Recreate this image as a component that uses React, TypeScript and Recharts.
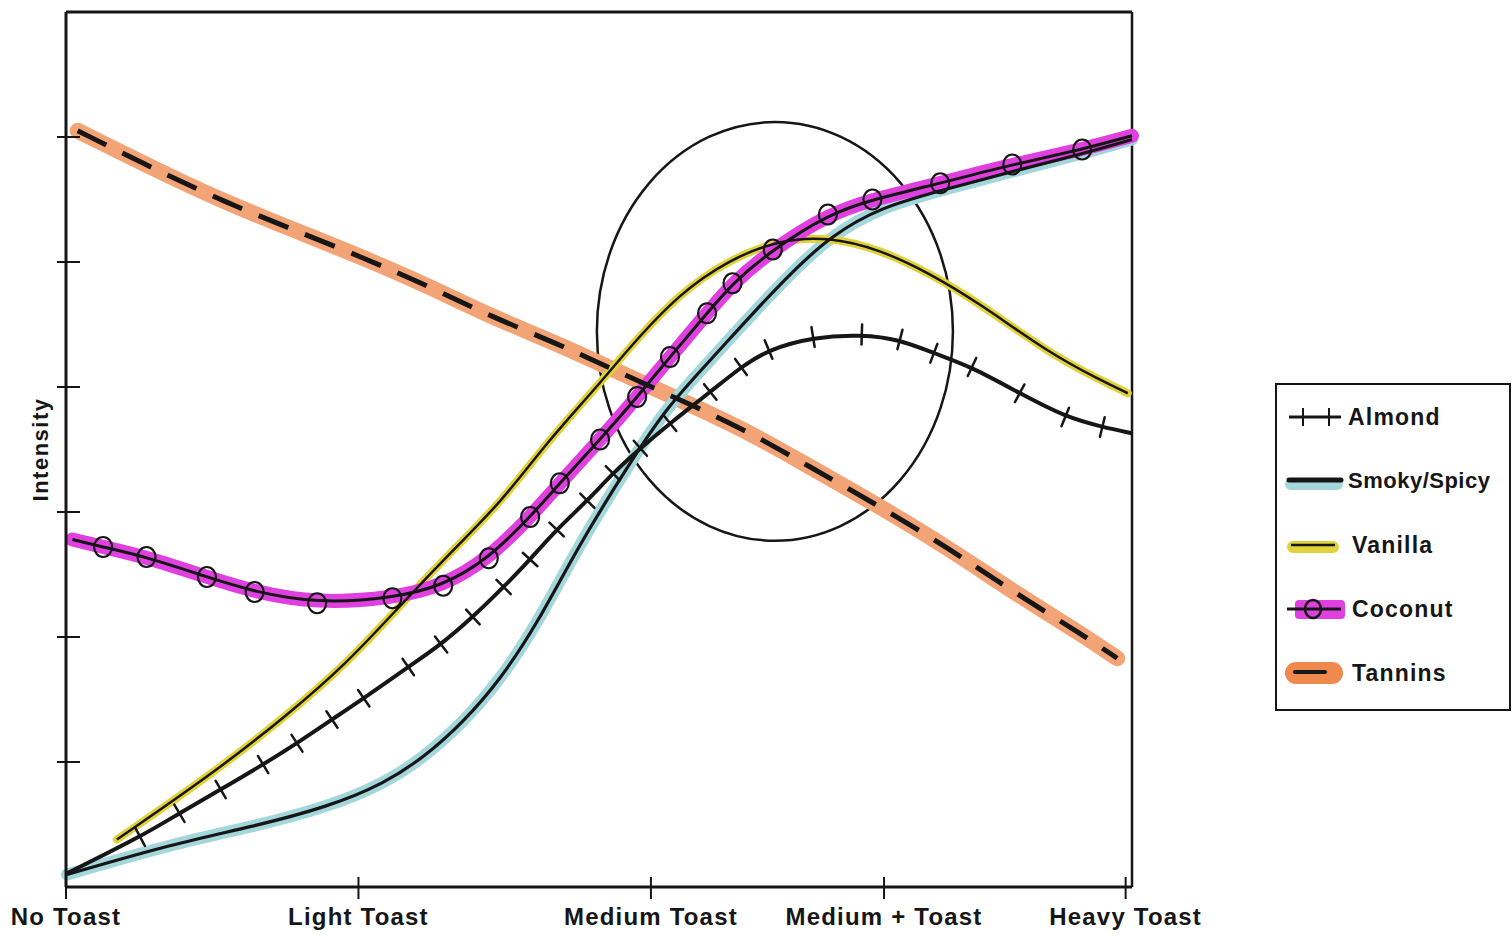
import {
  LineChart,
  Line,
  XAxis,
  YAxis,
  ReferenceLine,
  ReferenceArea,
  Legend,
} from "recharts";

const INK = "#161616";
const FONT = '"Liberation Sans", Arial, Helvetica, sans-serif';

const ORANGE = "#f2a476";
const MAGENTA = "#e040e0";
const CYAN = "#a3d7db";
const YELLOW = "#e2d23a";

// toast levels (x positions follow the uneven spacing of the drawing)
const X_TICK_VALUES = [0, 27.6, 55.2, 77.2, 100];
const X_TICK_LABELS = ["No Toast", "Light Toast", "Medium Toast", "Medium + Toast", "Heavy Toast"];
const Y_TICKS = [1, 2, 3, 4, 5, 6];
const X_MAX = 100.6;
const Y_MAX = 7;

const ALMOND_X = [0.1, 7.0, 10.7, 14.6, 18.6, 21.8, 25.1, 28.1, 32.3, 35.4, 38.4, 41.3, 43.8, 46.3, 49.2, 51.6, 54.2, 57.0, 60.8, 63.7, 66.3, 70.5, 75.1, 78.7, 81.9, 85.5, 90.0, 94.3, 97.8, 100.6];
const ALMOND_Y = [0.11, 0.4, 0.59, 0.78, 0.98, 1.15, 1.34, 1.51, 1.76, 1.94, 2.16, 2.40, 2.62, 2.86, 3.09, 3.31, 3.51, 3.71, 3.96, 4.16, 4.3, 4.4, 4.42, 4.38, 4.27, 4.16, 3.95, 3.76, 3.68, 3.63];

const SMOKY_X = [0.1, 10.3, 17.5, 24.7, 30.1, 33.8, 37.4, 41.0, 44.5, 48.5, 53.2, 56.7, 61.1, 64.8, 69.0, 72.1, 76.8, 83.4, 90.0, 95.7, 100.6];
const SMOKY_Y = [0.1, 0.35, 0.48, 0.64, 0.83, 1.04, 1.31, 1.66, 2.11, 2.75, 3.39, 3.84, 4.24, 4.59, 4.96, 5.2, 5.44, 5.59, 5.74, 5.86, 5.98];

const VANILLA_X = [4.8, 13.9, 21.1, 26.5, 31.2, 36.2, 41.0, 45.4, 50.1, 53.2, 57.9, 62.6, 67.4, 72.1, 76.8, 81.5, 86.2, 92.8, 97.5, 100.2];
const VANILLA_Y = [0.38, 0.91, 1.39, 1.79, 2.22, 2.67, 3.07, 3.56, 4.0, 4.32, 4.75, 5.02, 5.18, 5.2, 5.1, 4.91, 4.67, 4.27, 4.06, 3.95];

const COCONUT_X = [0.6, 3.5, 7.6, 13.3, 17.8, 23.7, 30.8, 35.6, 39.9, 43.8, 46.6, 50.4, 53.9, 57.0, 60.5, 62.9, 66.7, 71.9, 76.1, 82.5, 89.3, 95.9, 100.6];
const COCONUT_Y = [2.78, 2.72, 2.64, 2.48, 2.36, 2.27, 2.31, 2.41, 2.63, 2.96, 3.23, 3.58, 3.92, 4.24, 4.59, 4.83, 5.1, 5.38, 5.5, 5.63, 5.78, 5.9, 6.01];

const TANNINS_X = [1.1, 8.9, 15.0, 21.1, 27.9, 34.4, 40.2, 46.3, 51.1, 55.8, 64.1, 70.2, 76.3, 83.5, 89.4, 95.9, 99.2];
const TANNINS_Y = [6.05, 5.72, 5.48, 5.27, 5.04, 4.8, 4.56, 4.35, 4.16, 3.98, 3.66, 3.36, 3.07, 2.7, 2.36, 2.02, 1.83];

const SERIES_NAMES = ["Almond", "Smoky/Spicy", "Vanilla", "Coconut", "Tannins"];

// the circled crossover zone
const ZONE_X = [50.1, 83.7];
const ZONE_Y = [2.77, 6.12];

const CHART_W = 1512;
const CHART_H = 935;
const MARGIN = { top: 12, right: 380, bottom: 0, left: 0 };
const Y_AXIS_W = 66;
const X_AXIS_H = 48;
const PX_PER_X = (CHART_W - MARGIN.left - MARGIN.right - Y_AXIS_W) / X_MAX;
const PX_PER_Y = (CHART_H - MARGIN.top - MARGIN.bottom - X_AXIS_H) / Y_MAX;

function toPoints(xs: number[], ys: number[]) {
  return xs.map((x, i) => ({ x, y: ys[i] }));
}

const almond = toPoints(ALMOND_X, ALMOND_Y);
const smoky = toPoints(SMOKY_X, SMOKY_Y);
const vanilla = toPoints(VANILLA_X, VANILLA_Y);
const coconut = toPoints(COCONUT_X, COCONUT_Y);
const tannins = toPoints(TANNINS_X, TANNINS_Y);

function AlmondTick(props: any) {
  const { cx, cy, index } = props;
  if (index === 0 || index === ALMOND_X.length - 1 || cx == null) return <g key={`a-${index}`} />;
  const dx = (ALMOND_X[index + 1] - ALMOND_X[index - 1]) * PX_PER_X;
  const dy = -(ALMOND_Y[index + 1] - ALMOND_Y[index - 1]) * PX_PER_Y;
  const len = Math.hypot(dx, dy) || 1;
  const nx = -dy / len;
  const ny = dx / len;
  const h = 10;
  return (
    <line
      key={`a-${index}`}
      x1={cx - nx * h}
      y1={cy - ny * h}
      x2={cx + nx * h}
      y2={cy + ny * h}
      stroke={INK}
      strokeWidth={2.5}
      strokeLinecap="round"
    />
  );
}

function CoconutRing(props: any) {
  const { cx, cy, index } = props;
  if (index === 0 || index === COCONUT_X.length - 1 || cx == null) return <g key={`c-${index}`} />;
  return <ellipse key={`c-${index}`} cx={cx} cy={cy} rx={9} ry={10} fill="none" stroke={INK} strokeWidth={2.2} />;
}

function XTick(props: any) {
  const { x, y, payload } = props;
  const label = X_TICK_LABELS[X_TICK_VALUES.indexOf(payload.value)];
  return (
    <g>
      <line x1={x} x2={x} y1={y - 10} y2={y + 12} stroke={INK} strokeWidth={2} />
      <text
        x={x}
        y={y + 38}
        textAnchor="middle"
        fontFamily={FONT}
        fontWeight={700}
        fontSize={24}
        letterSpacing={1.2}
        fill={INK}
      >
        {label}
      </text>
    </g>
  );
}

function YTick(props: any) {
  const { x, y } = props;
  return <line x1={x - 9} x2={x + 14} y1={y} y2={y} stroke={INK} strokeWidth={2} />;
}

function Swatch({ name }: { name: string }) {
  return (
    <svg width={62} height={26} style={{ display: "block" }}>
      {name === "Almond" && (
        <g stroke={INK} strokeWidth={3}>
          <line x1={4} x2={56} y1={13} y2={13} />
          <line x1={18} x2={18} y1={4} y2={22} strokeWidth={2} />
          <line x1={44} x2={44} y1={4} y2={22} strokeWidth={2} />
        </g>
      )}
      {name === "Smoky/Spicy" && (
        <g>
          <rect x={0} y={10} width={58} height={12} rx={6} fill={CYAN} />
          <line x1={4} x2={56} y1={12} y2={12} stroke={INK} strokeWidth={5} strokeLinecap="round" />
        </g>
      )}
      {name === "Vanilla" && (
        <g>
          <rect x={2} y={9} width={52} height={12} rx={6} fill={YELLOW} />
          <line x1={6} x2={50} y1={13} y2={13} stroke={INK} strokeWidth={2.5} />
        </g>
      )}
      {name === "Coconut" && (
        <g>
          <rect x={10} y={4} width={50} height={19} rx={4} fill={MAGENTA} />
          <line x1={2} x2={56} y1={13} y2={13} stroke={INK} strokeWidth={3} />
          <ellipse cx={28} cy={13} rx={8} ry={9} fill="none" stroke={INK} strokeWidth={2.5} />
        </g>
      )}
      {name === "Tannins" && (
        <g>
          <rect x={0} y={2} width={58} height={22} rx={11} fill="#f0894e" />
          <line x1={10} x2={40} y1={12} y2={12} stroke={INK} strokeWidth={4} strokeLinecap="round" />
        </g>
      )}
    </svg>
  );
}

function LegendBox() {
  return (
    <div
      style={{
        position: "relative",
        boxSizing: "border-box",
        width: 236,
        height: 328,
        border: `2px solid ${INK}`,
        background: "#fff",
        fontFamily: FONT,
        fontWeight: 700,
        color: INK,
      }}
    >
      {SERIES_NAMES.map((name, i) => (
        <div
          key={name}
          style={{
            position: "absolute",
            left: 8,
            top: 32 + i * 64 - 13,
            height: 26,
            display: "flex",
            alignItems: "center",
            gap: name === "Smoky/Spicy" || name === "Almond" ? 1 : 5,
            whiteSpace: "nowrap",
          }}
        >
          <Swatch name={name} />
          <span style={{ fontSize: name === "Smoky/Spicy" ? 22 : 23, letterSpacing: name === "Smoky/Spicy" ? 0.5 : 1.2 }}>
            {name}
          </span>
        </div>
      ))}
    </div>
  );
}

export default function App() {
  return (
    <div style={{ position: "absolute", left: 0, top: 0, width: CHART_W, height: CHART_H, background: "#fff" }}>
      <LineChart width={CHART_W} height={CHART_H} margin={MARGIN}>
        <XAxis
          type="number"
          dataKey="x"
          domain={[0, X_MAX]}
          ticks={X_TICK_VALUES}
          interval={0}
          tickSize={0}
          tickMargin={0}
          tickLine={false}
          tick={<XTick />}
          height={X_AXIS_H}
          axisLine={{ stroke: INK, strokeWidth: 3 }}
        />
        <YAxis
          type="number"
          dataKey="y"
          domain={[0, Y_MAX]}
          ticks={Y_TICKS}
          interval={0}
          tickSize={0}
          tickMargin={0}
          tickLine={false}
          tick={<YTick />}
          width={Y_AXIS_W}
          axisLine={{ stroke: INK, strokeWidth: 3 }}
          label={{
            value: "Intensity",
            angle: -90,
            position: "insideLeft",
            offset: 40,
            style: { textAnchor: "middle", fontFamily: FONT, fontWeight: 700, fontSize: 22, letterSpacing: 1.5, fill: INK },
          }}
        />
        <ReferenceLine y={Y_MAX} stroke={INK} strokeWidth={3} />
        <ReferenceLine x={X_MAX} stroke={INK} strokeWidth={2.5} />

        {/* highlighter bands */}
        <Line data={tannins} dataKey="y" type="basis" stroke={ORANGE} strokeWidth={16} strokeLinecap="round" dot={false} activeDot={false} isAnimationActive={false} />
        <Line data={smoky} dataKey="y" type="basis" stroke={CYAN} strokeWidth={12} strokeLinecap="round" dot={false} activeDot={false} isAnimationActive={false} />
        <Line data={vanilla} dataKey="y" type="basis" stroke={YELLOW} strokeWidth={8} strokeLinecap="round" dot={false} activeDot={false} isAnimationActive={false} />
        <Line data={coconut} dataKey="y" type="basis" stroke={MAGENTA} strokeWidth={14} strokeLinecap="round" dot={false} activeDot={false} isAnimationActive={false} />

        {/* pen lines */}
        <Line data={tannins} dataKey="y" type="basis" stroke={INK} strokeWidth={5} strokeDasharray="32 18" dot={false} activeDot={false} isAnimationActive={false} />
        <Line data={smoky} dataKey="y" type="basis" stroke={INK} strokeWidth={3.2} dot={false} activeDot={false} isAnimationActive={false} />
        <Line data={vanilla} dataKey="y" type="basis" stroke={INK} strokeWidth={2.5} dot={false} activeDot={false} isAnimationActive={false} />
        <Line data={almond} dataKey="y" type="basis" stroke={INK} strokeWidth={4} dot={AlmondTick} activeDot={false} isAnimationActive={false} />
        <Line data={coconut} dataKey="y" type="basis" stroke={INK} strokeWidth={3} dot={CoconutRing} activeDot={false} isAnimationActive={false} />

        <ReferenceArea
          x1={ZONE_X[0]}
          x2={ZONE_X[1]}
          y1={ZONE_Y[0]}
          y2={ZONE_Y[1]}
          shape={(p: any) => (
            <ellipse
              cx={p.x + p.width / 2}
              cy={p.y + p.height / 2}
              rx={p.width / 2}
              ry={p.height / 2}
              fill="none"
              stroke={INK}
              strokeWidth={2.5}
            />
          )}
        />

        <Legend
          layout="vertical"
          align="center"
          verticalAlign="middle"
          wrapperStyle={{ left: 1275, top: 383, width: 236, height: 328 }}
          content={() => <LegendBox />}
        />
      </LineChart>
    </div>
  );
}
